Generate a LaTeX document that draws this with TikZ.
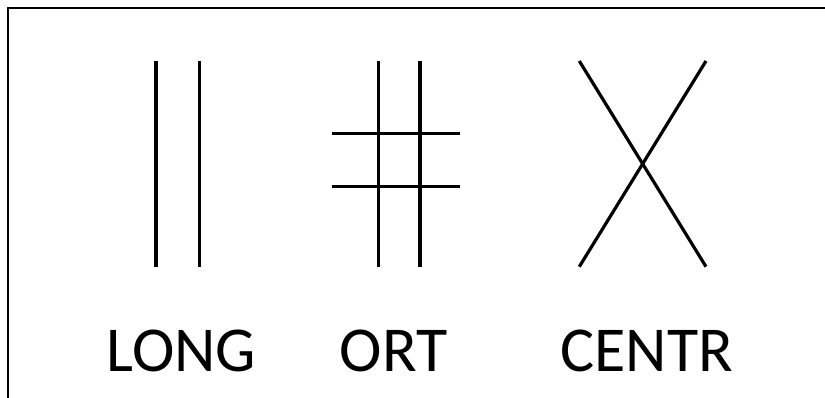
\documentclass[tikz,border=0pt]{standalone}
\usepackage{fontspec}
\setmainfont{Carlito}
\begin{document}
\begin{tikzpicture}[x=1pt,y=-1pt,
  bar/.style={line width=3.2pt},
  frame/.style={line width=2pt},
  lbl/.style={anchor=base,inner sep=0pt,font=\fontsize{64}{64}\selectfont}]
\useasboundingbox (0,0) rectangle (825,398);
% frame (top and left only)
\coordinate (fTR) at (825,8);
\coordinate (fTL) at (7.5,8);
\coordinate (fBL) at (7.5,398);
\draw[frame] (fTR) -- (fTL) -- (fBL);
% LONG
\coordinate (l1t) at (156,61); \coordinate (l1b) at (156,267.5);
\coordinate (l2t) at (199.5,61); \coordinate (l2b) at (199.5,267.5);
\draw[bar] (l1t) -- (l1b);
\draw[bar] (l2t) -- (l2b);
% ORT
\coordinate (o1t) at (378.7,61); \coordinate (o1b) at (378.7,267);
\coordinate (o2t) at (420,61); \coordinate (o2b) at (420,267);
\coordinate (h1l) at (332.3,133.7); \coordinate (h1r) at (460,133.7);
\coordinate (h2l) at (332.3,186.7); \coordinate (h2r) at (460,186.7);
\draw[bar] (o1t) -- (o1b);
\draw[bar] (o2t) -- (o2b);
\draw[bar] (h1l) -- (h1r);
\draw[bar] (h2l) -- (h2r);
% CENTR
\coordinate (c1) at (579.3,61); \coordinate (c2) at (706,266.7);
\coordinate (c3) at (706,61); \coordinate (c4) at (579.3,266.7);
\draw[bar] (c1) -- (c2);
\draw[bar] (c3) -- (c4);
% labels
\node[lbl] (tLONG) at (181.5,371.7) {LONG};
\node[lbl] (tORT) at (393.5,371.7) {ORT};
\node[lbl] (tCENTR) at (646.7,371.7) {CENTR};
\end{tikzpicture}
\end{document}
